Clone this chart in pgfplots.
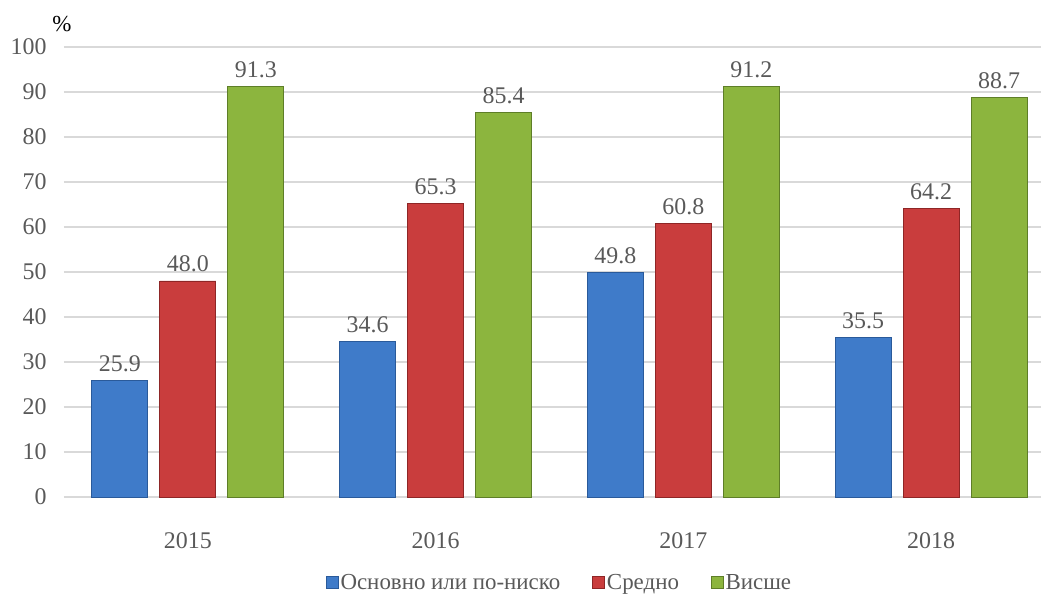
\documentclass[border=0pt]{standalone}
\usepackage{pgfplots}
\pgfplotsset{compat=1.18}
\usepackage{fontspec}
\setmainfont{Liberation Serif}

\definecolor{txt}{HTML}{595959}
\definecolor{cblue}{HTML}{3F7BC9}
\definecolor{cbluee}{HTML}{2A5A9A}
\definecolor{cred}{HTML}{C93D3D}
\definecolor{crede}{HTML}{8E2626}
\definecolor{cgreen}{HTML}{8CB53E}
\definecolor{cgreene}{HTML}{5E7E28}

\pgfplotsset{
  sq/.style={legend image code/.code={\draw[##1,line width=0.6bp] (0bp,-6bp) rectangle (12bp,6bp);}},
}

\begin{document}
\begin{tikzpicture}
\path[use as bounding box] (-64bp,-106bp) rectangle (977bp,497bp);
\begin{axis}[
  at={(0,0)}, anchor=south west,
  scale only axis, width=991bp, height=450bp,
  ymin=0, ymax=100, ytick={0,10,...,100},
  xmin=-0.5, xmax=3.5, xtick=data,
  xticklabels={2015,2016,2017,2018},
  ybar=12bp, bar width=56bp,
  axis line style={draw=none},
  major tick length=0,
  ymajorgrids, grid style={color=black!15, line width=1.2bp},
  tick label style={font=\fontsize{24}{28}\selectfont, text=txt},
  /pgf/number format/assume math mode=true,
  yticklabel style={xshift=-14bp},
  xticklabel style={yshift=-32bp},
  nodes near coords={\pgfmathprintnumber[fixed,fixed zerofill,precision=1,assume math mode=true]{\pgfplotspointmeta}},
  nodes near coords style={font=\fontsize{24}{28}\selectfont, text=txt, yshift=5bp},
  legend style={at={(0.5,-0.19)}, anchor=center, draw=none, fill=none,
    font=\fontsize{23}{27}\selectfont, text=txt, legend columns=3,
    /tikz/every even column/.append style={column sep=30bp}},
  legend cell align=left,
]
\addplot[sq, fill=cblue, draw=cbluee, line width=0.8bp] coordinates {(0,25.9) (1,34.6) (2,49.8) (3,35.5)};
\addplot[sq, fill=cred, draw=crede, line width=0.8bp] coordinates {(0,48.0) (1,65.3) (2,60.8) (3,64.2)};
\addplot[sq, fill=cgreen, draw=cgreene, line width=0.8bp] coordinates {(0,91.3) (1,85.4) (2,91.2) (3,88.7)};
\legend{Основно или по-ниско, Средно, Висше}
\end{axis}
\node[font=\fontsize{23}{26}\selectfont] at (-2bp,473bp) {\%};
\end{tikzpicture}
\end{document}
